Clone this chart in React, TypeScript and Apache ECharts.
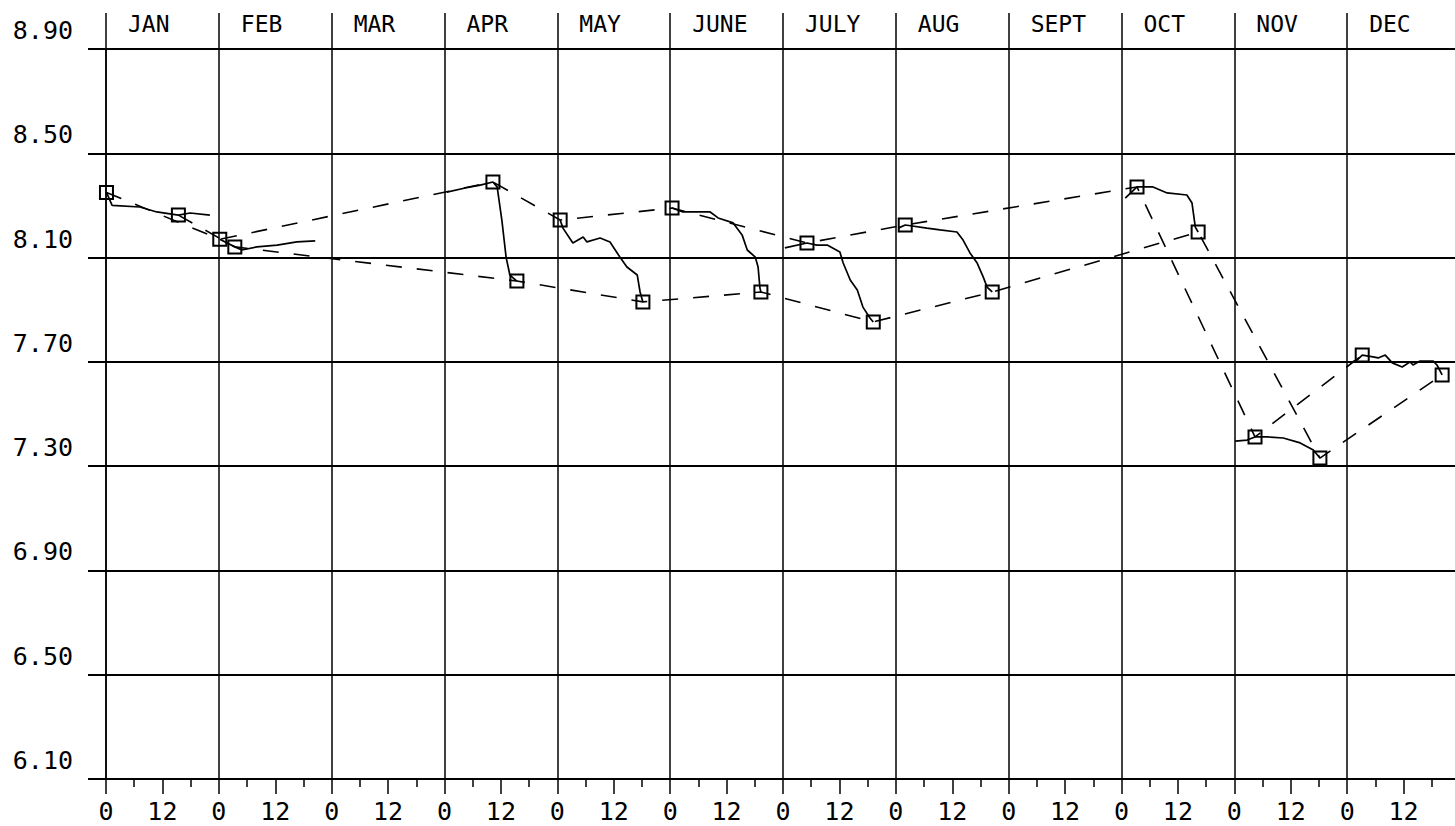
import React, { useEffect, useRef } from "react";
import * as echarts from "echarts";

// ---- axes ----
const MONTHS = ["JAN", "FEB", "MAR", "APR", "MAY", "JUNE", "JULY", "AUG", "SEPT", "OCT", "NOV", "DEC"];
const Y_BASE = 6.1; // bottom of the value scale
const Y_TOP = 8.9;
const Y_STEP = 0.4;
const X_MAX = 288; // 12 months, 0..24 each
const X_STEP = 12;
const MONTH_SPAN = 24;

// ---- squares joined by dashed lines: [x, value] ----
const startPoints = [
  [0.1, 8.35], [24.2, 8.17], [82.3, 8.39], [96.6, 8.244], [120.4, 8.29],
  [149.1, 8.156], [170.0, 8.225], [219.3, 8.371], [244.4, 7.412], [267.2, 7.726],
];
const endPoints = [
  [15.4, 8.263], [27.4, 8.141], [87.4, 8.01], [114.2, 7.93], [139.3, 7.968],
  [163.2, 7.853], [188.5, 7.968], [232.3, 8.198], [258.2, 7.331], [284.2, 7.65],
];

// ---- continuous (solid) traces ----
const janTrace = [[0.1, 8.35], [1.3, 8.3], [7.2, 8.294], [10.8, 8.275], [15.4, 8.263], [17.9, 8.271], [22.1, 8.263]];
const febTrace = [[24.2, 8.17], [27.4, 8.141], [28.9, 8.129], [32.1, 8.141], [36.4, 8.148], [40.6, 8.16], [44.5, 8.164]];
const aprTrace = [[72.5, 8.351], [76.4, 8.367], [79.6, 8.378], [82.3, 8.39], [83.2, 8.371], [84.2, 8.244], [85.1, 8.102], [85.9, 8.033], [87.4, 8.01]];
const mayTrace = [[96.6, 8.244], [97.2, 8.213], [99.3, 8.156], [101.5, 8.179], [102.3, 8.16], [105.1, 8.175], [107.2, 8.16], [109.3, 8.102], [110.8, 8.064], [113.0, 8.033], [113.6, 7.968], [114.2, 7.93]];
const juneTrace = [[120.4, 8.29], [122.7, 8.275], [128.5, 8.275], [130.2, 8.252], [133.4, 8.233], [135.3, 8.187], [136.4, 8.129], [138.1, 8.102], [138.7, 8.064], [139.1, 7.983], [139.3, 7.968]];
const julyTrace = [[144.4, 8.137], [149.1, 8.156], [151.2, 8.148], [153.4, 8.148], [156.1, 8.121], [156.8, 8.079], [158.3, 8.014], [159.8, 7.976], [161.0, 7.91], [162.5, 7.868], [163.2, 7.853]];
const augTrace = [[168.5, 8.213], [170.0, 8.225], [174.6, 8.213], [177.4, 8.206], [181.0, 8.198], [182.3, 8.167], [183.8, 8.117], [185.3, 8.079], [186.6, 8.025], [187.4, 7.987], [188.5, 7.968]];
const octTrace = [[216.8, 8.328], [219.3, 8.371], [222.7, 8.371], [225.7, 8.348], [229.9, 8.34], [231.0, 8.309], [231.7, 8.217], [232.3, 8.198]];
const novTrace = [[240.2, 7.396], [242.7, 7.4], [244.4, 7.412], [247.0, 7.412], [250.4, 7.408], [254.0, 7.389], [256.8, 7.362], [258.2, 7.331]];
const decTrace = [[264.6, 7.696], [266.1, 7.707], [267.2, 7.726], [269.5, 7.719], [270.6, 7.715], [272.1, 7.726], [273.6, 7.696], [275.7, 7.68], [277.4, 7.7], [278.0, 7.688], [279.5, 7.703], [282.3, 7.703], [283.1, 7.688], [284.2, 7.65]];

const TRACES = [janTrace, febTrace, aprTrace, mayTrace, juneTrace, julyTrace, augTrace, octTrace, novTrace, decTrace];

const FONT = "DejaVu Sans Mono";

export default function App() {
  const ref = useRef<HTMLDivElement>(null);
  useEffect(() => {
    const chart = echarts.init(ref.current!, null, { renderer: "svg" });
    const shift = (pts: number[][]) => pts.map(([x, v]) => [x, +(v - Y_BASE).toFixed(4)]);

    const traceSeries = TRACES.map((t, i) => ({
      type: "line",
      name: "trace" + i,
      data: shift(t),
      symbol: "none",
      showSymbol: false,
      lineStyle: { color: "#000", width: 1.7 },
      z: 4,
    }));

    const squareSeries = (name: string, pts: number[][]) => ({
      type: "line",
      name,
      data: shift(pts),
      symbol: "rect",
      symbolSize: 13,
      showSymbol: true,
      itemStyle: { color: "rgba(255,255,255,0)", borderColor: "#000", borderWidth: 2 },
      lineStyle: { color: "#000", width: 1.6, type: [16, 15] },
      z: 5,
    });

    chart.setOption({
      animation: false,
      backgroundColor: "#fff",
      grid: { left: 106, top: 49, width: 1354, bottom: 47, containLabel: false, outerBoundsMode: "none" },
      xAxis: [
        {
          type: "value",
          position: "bottom",
          min: 0,
          max: X_MAX,
          interval: X_STEP,
          axisLine: { show: true, lineStyle: { color: "#000", width: 2 } },
          axisTick: { show: true, length: 15, lineStyle: { color: "#000", width: 1.5 } },
          minorTick: { show: true, splitNumber: 2, length: 8, lineStyle: { color: "#000", width: 1.5 } },
          splitLine: { show: false },
          axisLabel: {
            color: "#000",
            fontFamily: FONT,
            fontSize: 25,
            margin: 20,
            formatter: (v: number) => (v >= X_MAX ? "" : v % MONTH_SPAN === 0 ? "0" : "12"),
          },
        },
        {
          type: "value",
          position: "top",
          min: 0,
          max: X_MAX,
          interval: MONTH_SPAN,
          axisLine: { show: true, lineStyle: { color: "#000", width: 2 } },
          axisTick: { show: true, length: 36, lineStyle: { color: "#000", width: 1.5 } },
          splitLine: { show: true, lineStyle: { color: "#000", width: 1.5 } },
          axisLabel: {
            color: "#000",
            fontFamily: FONT,
            fontSize: 23,
            margin: 14,
            align: "left",
            padding: [0, 0, 0, 22],
            formatter: (v: number) => MONTHS[Math.round(v / MONTH_SPAN)] || "",
          },
        },
      ],
      yAxis: {
        type: "value",
        min: 0,
        max: +(Y_TOP - Y_BASE).toFixed(4),
        interval: Y_STEP,
        axisLine: { show: true, lineStyle: { color: "#000", width: 1.5 } },
        axisTick: { show: true, length: 18, lineStyle: { color: "#000", width: 2 } },
        splitLine: { show: true, lineStyle: { color: "#000", width: 2 } },
        axisLabel: {
          color: "#000",
          fontFamily: FONT,
          fontSize: 25,
          margin: 33,
          verticalAlign: "bottom",
          padding: [0, 0, 6, 0],
          formatter: (v: number) => (v + Y_BASE).toFixed(2),
        },
      },
      series: [...traceSeries, squareSeries("start", startPoints), squareSeries("end", endPoints)],
    });
    return () => chart.dispose();
  }, []);
  return (
    <div
      ref={ref}
      style={{ position: "absolute", left: 0, top: 0, width: 1455, height: 826, background: "#fff" }}
    />
  );
}
